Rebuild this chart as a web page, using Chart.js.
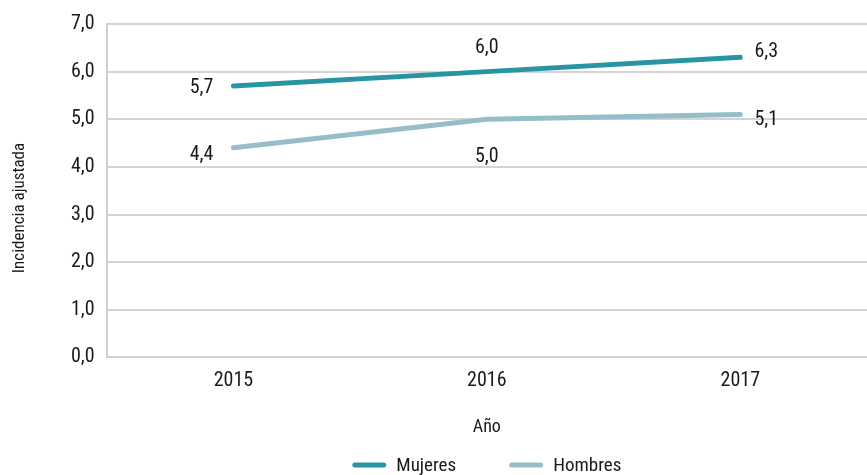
<!DOCTYPE html>
<html>
<head>
<meta charset="utf-8">
<script src="https://cdn.jsdelivr.net/npm/chart.js@4/dist/chart.umd.min.js"></script>
<style>
html,body{margin:0;padding:0;background:#fff;}
</style>
</head>
<body>
<canvas id="c" width="867" height="475"></canvas>
<script>
const years = ['2015', '2016', '2017'];
const mujeres = [5.7, 6.0, 6.3];
const hombres = [4.4, 5.0, 5.1];
const yTicks = [0, 1, 2, 3, 4, 5, 6, 7];
const yTitle = 'Incidencia ajustada';
const xTitle = 'Año';

const FONT = "'Roboto Condensed', 'DejaVu Sans Condensed', sans-serif";
const TXT = '#1a1a1a';
const fmt = v => v.toFixed(1).replace('.', ',');

// label placement per series/point (style, not data)
const labelPlacement = [
  [{dx:-20, dy:2, align:'right'}, {dx:0, dy:-24, align:'center'}, {dx:26, dy:-5, align:'center'}],
  [{dx:-20, dy:7, align:'right'}, {dx:0, dy:38, align:'center'}, {dx:26, dy:6, align:'center'}]
];

const extras = {
  id: 'extras',
  afterDraw(chart) {
    const ctx = chart.ctx;
    const area = chart.chartArea;
    ctx.save();
    // data labels
    ctx.font = "20px " + FONT;
    ctx.fillStyle = TXT;
    ctx.textBaseline = 'middle';
    chart.data.datasets.forEach((ds, i) => {
      const meta = chart.getDatasetMeta(i);
      meta.data.forEach((pt, j) => {
        const p = labelPlacement[i][j];
        ctx.textAlign = p.align;
        ctx.fillText(fmt(ds.data[j]), pt.x + p.dx, pt.y + p.dy);
      });
    });
    // y axis title
    ctx.save();
    ctx.translate(20, 208);
    ctx.rotate(-Math.PI / 2);
    ctx.font = "17px " + FONT;
    ctx.textAlign = 'center';
    ctx.fillText(yTitle, 0, 0);
    ctx.restore();
    // legend
    ctx.font = "19px " + FONT;
    ctx.textAlign = 'left';
    const sw = 34, gap = 10, itemGap = 53;
    const items = chart.data.datasets.map(ds => ({text: ds.label, color: ds.borderColor, w: ctx.measureText(ds.label).width}));
    let total = items.reduce((s, it) => s + sw + gap + it.w, 0) + itemGap * (items.length - 1);
    let x = (area.left + area.right) / 2 - total / 2;
    const y = 465;
    items.forEach(it => {
      ctx.strokeStyle = it.color;
      ctx.lineWidth = 5;
      ctx.lineCap = 'round';
      ctx.beginPath();
      ctx.moveTo(x + 2.5, y);
      ctx.lineTo(x + sw - 2.5, y);
      ctx.stroke();
      ctx.fillStyle = TXT;
      ctx.fillText(it.text, x + sw + gap, y + 1);
      x += sw + gap + it.w + itemGap;
    });
    ctx.restore();
  }
};

new Chart(document.getElementById('c'), {
  type: 'line',
  data: {
    labels: years,
    datasets: [
      {label: 'Mujeres', data: mujeres, borderColor: '#2895a4', backgroundColor: '#2895a4',
       borderWidth: 5, borderCapStyle: 'round', pointRadius: 0, tension: 0},
      {label: 'Hombres', data: hombres, borderColor: '#96bec8', backgroundColor: '#96bec8',
       borderWidth: 5, borderCapStyle: 'round', pointRadius: 0, tension: 0}
    ]
  },
  options: {
    responsive: false,
    animation: false,
    devicePixelRatio: 1,
    layout: {padding: {left: 59, right: 0, top: 11, bottom: 27}},
    plugins: {
      legend: {display: false},
      tooltip: {enabled: false}
    },
    scales: {
      x: {
        type: 'category',
        offset: true,
        grid: {display: false, drawTicks: false},
        border: {display: true, color: '#d0d0d0', width: 2},
        ticks: {font: {family: FONT, size: 20}, color: TXT, padding: 12},
        title: {display: true, text: xTitle, font: {family: FONT, size: 18}, color: TXT, padding: {top: 11, bottom: 10}}
      },
      y: {
        min: 0, max: 7,
        afterBuildTicks: s => { s.ticks = yTicks.map(v => ({value: v})); },
        grid: {color: '#d4d4d4', lineWidth: 2, drawTicks: false},
        border: {display: true, color: '#d0d0d0', width: 2},
        ticks: {font: {family: FONT, size: 20}, color: TXT, padding: 12, callback: v => fmt(v)},
        title: {display: false}
      }
    }
  },
  plugins: [extras]
});
</script>
</body>
</html>
